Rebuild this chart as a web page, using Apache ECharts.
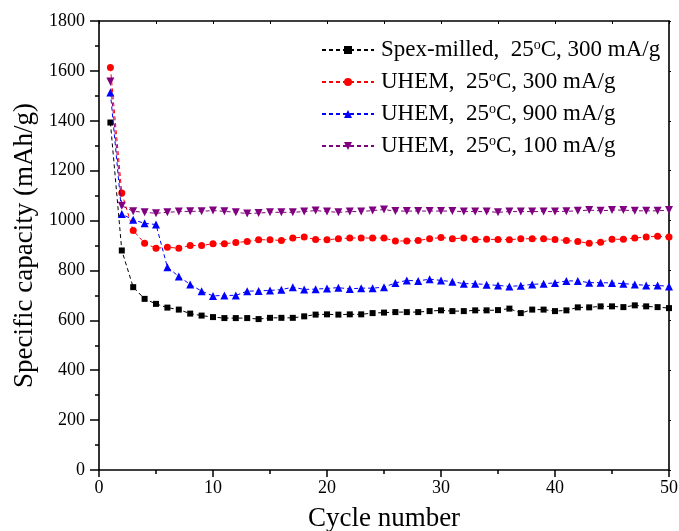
<!DOCTYPE html>
<html>
<head>
<meta charset="utf-8">
<script src="https://cdn.jsdelivr.net/npm/echarts@6/dist/echarts.min.js"></script>
<style>html,body{margin:0;padding:0;background:#fff;}#c{width:679px;height:531px;}</style>
</head>
<body>
<div id="c"></div>
<script>
var cycles = [1,2,3,4,5,6,7,8,9,10,11,12,13,14,15,16,17,18,19,20,21,22,23,24,25,26,27,28,29,30,31,32,33,34,35,36,37,38,39,40,41,42,43,44,45,46,47,48,49,50];

var spex300 = [1393,880,733,686,666,651,643,627,619,613,609,609,609,605,610,610,610,616,623,624,623,624,624,629,631,633,633,633,637,640,637,637,640,640,641,647,629,643,643,637,640,652,652,656,656,653,660,656,653,649];
var uhem300 = [1614,1110,960,909,889,893,889,900,900,907,907,912,916,923,923,920,930,934,924,923,927,930,930,930,930,918,918,920,927,932,927,930,924,925,924,923,927,927,927,924,920,916,909,913,925,925,930,934,937,934];
var uhem900 = [1513,1026,1003,989,984,813,776,744,717,698,700,700,717,718,720,723,733,724,725,728,731,726,729,729,733,750,760,758,765,760,755,747,747,743,740,736,739,744,747,750,758,758,751,751,750,747,744,740,740,736];
var uhem100 = [1557,1059,1037,1033,1029,1033,1036,1037,1037,1040,1037,1033,1028,1030,1033,1033,1033,1036,1040,1036,1033,1036,1036,1040,1044,1038,1038,1038,1038,1038,1038,1036,1036,1036,1033,1036,1036,1036,1036,1036,1037,1039,1042,1039,1042,1042,1039,1039,1039,1042];

var seriesNames = ['Spex-milled,  25°C, 300 mA/g','UHEM,  25°C, 300 mA/g','UHEM,  25°C, 900 mA/g','UHEM,  25°C, 100 mA/g'];
var yTicks = [0,200,400,600,800,1000,1200,1400,1600,1800];
var xTicks = [0,10,20,30,40,50];

var FONT = 'Liberation Serif';
function pairs(v){ return cycles.map(function(c,i){ return [c, v[i]]; }); }

var colors = ['#000000','#ff0000','#0000ff','#800080'];
var symbols = ['rect','circle','triangle','path://M0,0 L10,0 L5,9 Z'];
var sizes = [6,7,8,8];
var datas = [spex300, uhem300, uhem900, uhem100];

var series = datas.map(function(d,i){
  return {
    name: seriesNames[i], type: 'line', data: pairs(d),
    symbol: symbols[i], symbolSize: sizes[i], showSymbol: true,
    lineStyle: {color: colors[i], width: 1, type: [4,3]},
    itemStyle: {color: colors[i]},
    emphasis: {disabled: true}, animation: false, z: 3 + i
  };
});

var chart = echarts.init(document.getElementById('c'), null, {renderer: 'canvas'});
chart.setOption({
  backgroundColor: '#ffffff',
  animation: false,
  grid: {left: 99, right: 10, top: 21, bottom: 61, containLabel: false, outerBoundsMode: 'none'},
  legend: {
    orient: 'vertical', left: 316, top: 33, itemWidth: 52, itemHeight: 10, itemGap: 8,
    data: seriesNames,
    formatter: function(n){ return n.replace('°', '{sup|o}'); },
    textStyle: {fontFamily: FONT, fontSize: 23, color: '#000', lineHeight: 24, padding: [0,0,0,2],
      rich: {sup: {fontFamily: FONT, fontSize: 14, color: '#000', lineHeight: 12, verticalAlign: 'top'}}}
  },
  xAxis: [{
    type: 'value', min: xTicks[0], max: xTicks[xTicks.length-1], interval: 10,
    name: 'Cycle number', nameLocation: 'middle', nameGap: 35,
    nameTextStyle: {fontFamily: FONT, fontSize: 27, color: '#000'},
    axisLine: {show: true, onZero: false, lineStyle: {color: '#000', width: 1.6}},
    axisTick: {show: true, inside: false, length: 7, lineStyle: {color: '#000', width: 1.5}},
    minorTick: {show: true, splitNumber: 2, length: 4, lineStyle: {color: '#000', width: 1.5}},
    axisLabel: {fontFamily: FONT, fontSize: 18, color: '#000', margin: 9},
    splitLine: {show: false}
  },{
    type: 'value', position: 'top', min: 0, max: 50, interval: 5,
    axisLine: {show: true, onZero: false, lineStyle: {color: '#000', width: 1.6}},
    axisTick: {show: true, inside: true, length: 3, lineStyle: {color: '#000', width: 1}},
    axisLabel: {show: false}, splitLine: {show: false}
  }],
  yAxis: [{
    type: 'value', min: yTicks[0], max: yTicks[yTicks.length-1], interval: 200,
    name: 'Specific capacity (mAh/g)', nameLocation: 'middle', nameGap: 61, nameRotate: 90,
    nameTextStyle: {fontFamily: FONT, fontSize: 27, color: '#000'},
    axisLine: {show: true, onZero: false, lineStyle: {color: '#000', width: 1.6}},
    axisTick: {show: true, inside: false, length: 9, lineStyle: {color: '#000', width: 1.5}},
    minorTick: {show: true, splitNumber: 2, length: 4, lineStyle: {color: '#000', width: 1.5}},
    axisLabel: {fontFamily: FONT, fontSize: 18, color: '#000', margin: 14, formatter: function(v){ return String(v); }},
    splitLine: {show: false}
  },{
    type: 'value', position: 'right', min: 0, max: 1800, interval: 200,
    axisLine: {show: true, onZero: false, lineStyle: {color: '#000', width: 1.6}},
    axisTick: {show: true, inside: false, length: 2, lineStyle: {color: '#000', width: 1}},
    axisLabel: {show: false}, splitLine: {show: false}
  }],
  series: series
});
</script>
</body>
</html>
